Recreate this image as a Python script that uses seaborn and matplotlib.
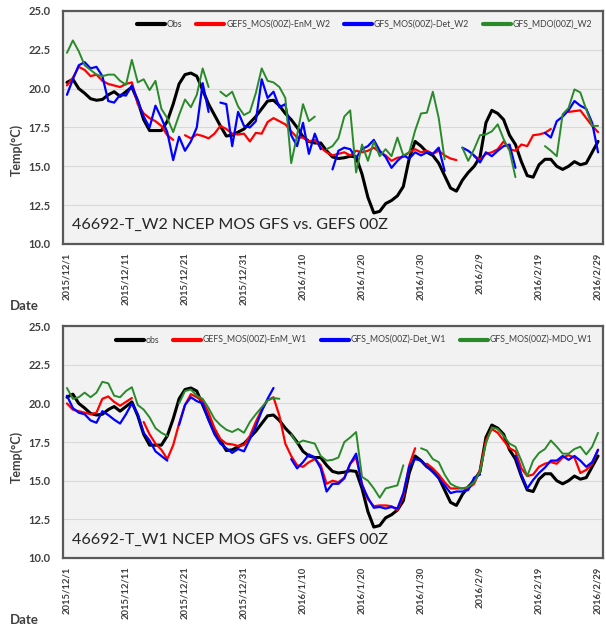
import numpy as np
import pandas as pd
import matplotlib
matplotlib.use("Agg")
import matplotlib.pyplot as plt
import seaborn as sns
from matplotlib.lines import Line2D

nan = np.nan

# ---------------- data ----------------
start_date = "2015-12-01"
end_date = "2016-02-29"

obs = [20.4, 20.6, 20.0, 19.7, 19.35, 19.25, 19.3, 19.6, 19.8, 19.5,
       19.8, 20.1, 19.2, 18.0, 17.3, 17.3, 17.3, 17.9, 19.0, 20.3,
       20.9, 21.0, 20.8, 19.9, 19.0, 18.3, 17.6, 16.95, 17.0, 17.2,
       17.4, 17.8, 18.2, 18.7, 19.2, 19.25, 18.9, 18.4, 18.0, 17.5,
       16.9, 16.6, 16.5, 16.5, 16.0, 15.6, 15.5, 15.55, 15.65, 15.6,
       14.5, 13.0, 12.0, 12.1, 12.6, 12.8, 13.1, 13.7, 15.5, 16.6,
       16.3, 15.9, 15.7, 15.2, 14.4, 13.6, 13.4, 14.1, 14.6, 15.0,
       15.6, 17.8, 18.6, 18.4, 18.0, 17.0, 16.4, 15.3, 14.4, 14.3,
       15.1, 15.45, 15.45, 15.0, 14.8, 15.0, 15.3, 15.1, 15.2, 15.9,
       16.6]

w2_enm = [20.2, 20.7, 21.4, 21.2, 20.8, 20.9, 20.5, 20.3, 20.2, 20.1,
          20.3, 20.4, 19.0, 18.4, 18.1, 17.9, 17.6, 17.0, 16.7, nan,
          17.0, 16.8, 17.05, 16.95, 16.8, 17.1, 17.6, 17.4, 17.1, 17.05,
          17.1, 16.6, 17.15, 17.1, 17.85, 18.1, 17.9, 17.7, 17.25, 16.85,
          16.85, 16.6, 16.7, 16.2, 15.9, 15.7, 15.8, 15.9, 15.7, 16.0,
          15.9, 16.0, 16.2, 15.9, 15.7, 15.35, 15.55, 15.6, 15.9, 16.1,
          15.9, 16.0, 15.8, 16.0, 15.7, 15.5, 15.4, nan, nan, 15.65,
          15.45, 15.8, 15.9, 16.1, 16.6, 16.1, 16.0, 16.4, 16.3, 17.0,
          17.05, 17.15, 17.4, nan, nan, 18.5, 18.55, 18.6, 18.1, 17.6,
          17.2]

w2_det = [19.6, 20.6, 21.5, 21.7, 21.3, 21.4, 20.8, 19.2, 19.1, 19.6,
          19.55, 20.2, 19.2, 18.2, 17.5, 18.9, 18.1, 17.2, 15.4, 16.9,
          16.0, 16.6, 17.5, 20.35, 18.5, nan, 19.1, 19.0, 16.3, 18.5,
          17.6, 17.5, 17.9, 20.6, 19.4, 19.8, 18.8, 19.0, 17.0, 16.3,
          17.8, 15.8, 17.1, 16.1, nan, 14.8, 16.0, 16.2, 16.1, 15.55,
          16.1, 16.3, 16.7, 16.0, 15.6, 14.9, 15.35, 15.7, 15.5, 15.9,
          15.7, 15.9, 15.8, 16.2, 14.7, nan, nan, 16.2, 16.0, 15.7,
          15.25, 15.9, 15.65, 16.0, 16.3, 16.4, 14.9, nan, nan, nan,
          nan, 17.15, 16.85, 17.9, 18.2, 18.6, 19.2, 18.9, 18.7, 17.8,
          15.9]

w2_mdo = [22.3, 23.1, 22.4, 21.5, 21.2, 20.9, 20.8, 20.9, 20.9, 20.5,
          20.25, 21.85, 20.4, 20.6, 19.9, 20.5, 18.7, 18.1, 17.2, 18.3,
          19.3, 18.8, 19.6, 21.3, 20.1, nan, 19.8, 19.5, 19.8, 18.85,
          18.3, 18.5, 19.7, 21.3, 20.5, 20.4, 20.1, 19.4, 15.2, 17.0,
          19.0, 17.9, 18.2, nan, 16.1, 16.3, 16.8, 18.2, 18.6, 14.6,
          16.4, 15.35, 16.6, 15.65, 16.1, 15.65, 16.85, 15.7, 15.9, 17.3,
          18.4, 18.45, 19.8, 18.1, 15.45, nan, nan, 16.2, 15.35, 16.1,
          17.0, 17.05, 17.25, 17.7, 16.75, 16.0, 14.3, nan, nan, nan,
          nan, 16.3, 16.0, 15.65, 18.35, 18.75, 19.95, 19.75, 18.65, 17.6,
          17.6]

w1_enm = [20.0, 19.6, 19.5, 19.4, 19.3, 19.4, 20.3, 20.45, 20.1, 19.85,
          20.1, 20.35, nan, 18.8, 18.0, 17.4, 17.0, 16.4, 17.3, 18.7,
          19.9, 20.6, 20.4, 20.15, 19.4, 18.4, 17.7, 17.4, 17.35, 17.25,
          17.3, 17.9, 18.8, 19.6, 20.2, 20.4, 19.2, 17.4, 16.6, 16.0,
          15.9, 16.2, 16.4, 16.0, 14.8, 15.0, 14.9, 15.2, 16.1, 16.5,
          14.8, 13.8, 13.35, 13.4, 13.4, 13.35, 13.1, 14.0, 16.0, 17.1,
          nan, 16.1, 15.8, 15.4, 14.9, 14.5, 14.5, 14.5, 14.5, 14.8,
          15.7, 17.6, 18.35, 18.1, 17.6, 17.1, 16.9, 15.8, 15.3, 15.4,
          15.9, 16.1, 16.2, 16.1, 16.5, 16.65, 16.5, 15.5, 15.7, 16.1,
          17.0]

w1_det = [20.5, 19.7, 19.4, 19.3, 18.9, 18.75, 19.5, 19.25, 18.95, 18.7,
          19.3, 20.0, 19.3, 18.1, 17.6, 16.9, 16.6, 16.3, nan, 18.6,
          19.9, 20.4, 20.15, 20.0, 18.9, 18.0, 17.4, 17.1, 16.8, 17.05,
          16.9, 17.7, 18.5, 19.5, 20.3, 21.0, nan, nan, 16.4, 15.8,
          16.2, 16.7, 16.5, 15.8, 14.3, 14.8, 14.8, 15.15, 16.1, 16.75,
          14.7, 13.9, 13.25, 13.3, 13.2, 13.3, 13.2, 14.2, 15.9, 16.4,
          16.3, 15.9, 15.55, 15.15, 14.7, 14.2, 14.3, 14.3, 14.4, 15.2,
          15.4, nan, nan, nan, nan, nan, 16.6, 15.4, 14.5, 15.05,
          15.5, 15.85, 16.3, 16.3, 16.6, 16.35, 16.6, 16.3, 15.9, 16.2,
          17.0]

w1_mdo = [21.0, 20.3, 20.4, 20.7, 20.4, 20.7, 21.4, 21.3, 20.5, 20.4,
          20.8, 21.05, 19.9, 19.6, 19.1, 18.4, 18.1, 17.9, nan, 20.0,
          20.8, 20.9, 20.5, 20.3, 19.7, 19.0, 18.6, 18.3, 18.15, 18.35,
          18.1, 18.8, 19.3, 19.75, 20.2, 20.35, 20.3, nan, 18.0, 17.4,
          17.6, 17.5, 17.4, 16.6, 16.3, 16.35, 16.5, 17.5, 17.8, 18.15,
          15.25, 15.0, 14.5, 13.9, 14.5, 14.6, 14.7, 16.0, nan, nan,
          17.1, 16.95, 16.4, 16.2, 15.4, 14.8, 14.6, 14.5, 14.6, 14.9,
          15.6, 17.4, 18.45, 18.35, 17.9, 17.4, 17.2, 16.3, 15.3, 16.3,
          16.8, 17.05, 17.6, 17.2, 16.75, 16.75, 17.05, 17.2, 16.7, 17.2,
          18.1]

labels_w2 = ["Obs", "GEFS_MOS(00Z)-EnM_W2", "GFS_MOS(00Z)-Det_W2", "GFS_MDO(00Z)_W2"]
labels_w1 = ["obs", "GEFS_MOS(00Z)-EnM_W1", "GFS_MOS(00Z)-Det_W1", "GFS_MOS(00Z)-MDO_W1"]
title_w2 = "46692-T_W2 NCEP MOS GFS vs. GEFS 00Z"
title_w1 = "46692-T_W1 NCEP MOS GFS vs. GEFS 00Z"
y_ticks = [10.0, 12.5, 15.0, 17.5, 20.0, 22.5, 25.0]

# ---------------- style ----------------
sns.set_theme(style="white")
plt.rcParams["font.family"] = ["Lato", "DejaVu Sans"]

colors = ["#000000", "#ff0000", "#0000ff", "#2a8a2a"]
widths = [2.2, 1.6, 1.6, 1.4]

dates = pd.date_range(start_date, end_date, freq="D")
tick_dates = pd.date_range(start_date, end_date, freq="10D")
tick_labels = [f"{d.year}/{d.month}/{d.day}" for d in tick_dates]


def seg_frame(vals):
    s = pd.Series(vals, index=dates, dtype=float)
    seg = s.isna().cumsum().values
    df = pd.DataFrame({"date": dates, "val": s.values, "seg": seg})
    return df.dropna()


fig = plt.figure(figsize=(6.06, 6.30), dpi=100)
fig.patch.set_facecolor("white")
ax_top = fig.add_axes([0.104, 0.6127, 0.891, 0.370])
ax_bot = fig.add_axes([0.104, 0.1143, 0.891, 0.368])


def draw_panel(ax, series, labels, title):
    ax.set_facecolor("#f2f2f2")
    for vals, c, lw in zip(series, colors, widths):
        df = seg_frame(vals)
        sns.lineplot(data=df, x="date", y="val", units="seg", estimator=None,
                     color=c, linewidth=lw, ax=ax, legend=False)
    ax.set_ylim(10, 25)
    ax.set_xlim(dates[0] - pd.Timedelta(hours=16), dates[-1] + pd.Timedelta(hours=20))
    ax.set_yticks(y_ticks)
    ax.set_yticklabels([f"{v:.1f}" for v in y_ticks], fontsize=8, fontweight="bold", color="#404040")
    ax.set_xticks(tick_dates)
    ax.set_xticklabels(tick_labels, rotation=90, fontsize=6.8, fontweight="bold", color="#404040")
    ax.tick_params(axis="y", length=0, pad=9)
    ax.tick_params(axis="x", length=3, width=0.8, color="#bfbfbf", pad=3)
    ax.set_xlabel("")
    ax.set_ylabel("")
    ax.grid(axis="y", color="#d9d9d9", linewidth=0.8)
    ax.grid(axis="x", visible=False)
    for sp in ax.spines.values():
        sp.set_color("#595959")
        sp.set_linewidth(1.6)
    handles = [Line2D([], [], color=c, lw=3) for c in colors]
    ax.legend(handles, labels, loc="upper right", bbox_to_anchor=(0.995, 0.995), ncol=4,
              frameon=False, fontsize=6.3, handlelength=3.2, handletextpad=0.2,
              columnspacing=1.6, labelcolor="#404040")
    ax.text(0.017, 0.05, title, transform=ax.transAxes, fontsize=11.6,
            color="#262626", ha="left", va="bottom")


draw_panel(ax_top, [obs, w2_enm, w2_det, w2_mdo], labels_w2, title_w2)
draw_panel(ax_bot, [obs, w1_enm, w1_det, w1_mdo], labels_w1, title_w1)

for yc in (0.762, 0.275):
    fig.text(0.028, yc, "Temp(°C)", rotation=90, fontsize=9, fontweight="bold",
             color="#404040", ha="center", va="center")
for yd in (0.514, 0.016):
    fig.text(0.017, yd, "Date", fontsize=9.5, fontweight="bold", color="#404040",
             ha="left", va="center")

fig.savefig("out.png", dpi=100, facecolor="white")
